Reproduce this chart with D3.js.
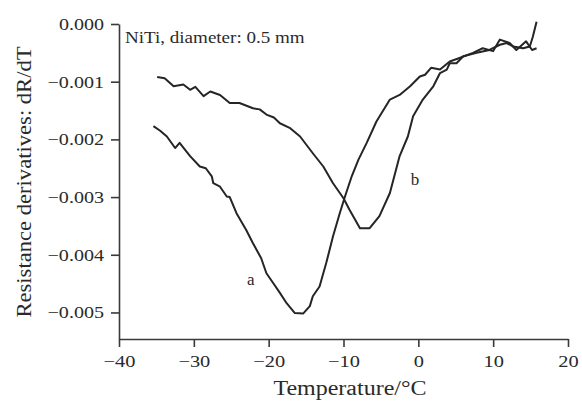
<!DOCTYPE html>
<html>
<head>
<meta charset="utf-8">
<script src="https://cdn.jsdelivr.net/npm/d3@7"></script>
<style>
  body { margin: 0; background: #fff; }
  text { font-family: "Liberation Serif", "Times New Roman", serif; fill: #2a2a2a; }
  .axis path, .axis line { stroke: #3a3a3a; stroke-width: 1.6; }
  .line { fill: none; stroke: #252525; stroke-width: 2; stroke-linejoin: round; }
</style>
</head>
<body>
<div id="chart"></div>
<script>
// curve a (cooling)
var aTemp = [-35.4,-34.5,-33.6,-32.5,-31.9,-30.5,-29.2,-28.4,-27.6,-27.4,-26.5,-25.6,-25.2,-24.3,-23.0,-22.1,-21.0,-20.3,-19.4,-18.5,-17.6,-16.5,-15.4,-14.5,-14.1,-13.2,-12.3,-11.4,-10.5,-9.8,-8.9,-8.0,-6.9,-5.6,-3.8,-2.5,-1.1,0.2,0.9,1.7,2.9,4.2,5.5,7.3,8.6,10.0,10.9,12.2,13.1,14.4,15.2,15.8];
var aDeriv = [-0.00177,-0.00185,-0.00195,-0.00215,-0.00206,-0.00229,-0.00247,-0.00250,-0.00264,-0.00276,-0.00282,-0.00299,-0.00300,-0.00328,-0.00357,-0.00380,-0.00406,-0.00432,-0.00449,-0.00466,-0.00484,-0.00501,-0.00502,-0.00489,-0.00472,-0.00455,-0.00414,-0.00368,-0.00328,-0.00299,-0.00264,-0.00235,-0.00206,-0.00169,-0.00131,-0.00123,-0.00108,-0.00091,-0.00088,-0.00076,-0.00079,-0.00065,-0.00059,-0.00050,-0.00042,-0.00047,-0.00027,-0.00033,-0.00045,-0.00030,-0.00045,-0.00042];

// curve b (heating)
var bTemp = [-34.9,-33.9,-32.7,-31.4,-30.5,-29.8,-28.7,-27.8,-26.5,-25.2,-23.9,-22.1,-21.2,-20.3,-19.3,-18.5,-17.2,-15.8,-14.1,-12.7,-11.4,-10.0,-9.2,-7.8,-6.5,-5.2,-3.8,-2.5,-1.4,-0.7,0.6,2.0,2.9,3.8,4.2,5.1,6.0,7.8,9.5,10.9,11.8,12.7,14.0,14.9,15.3,15.8];
var bDeriv = [-0.00092,-0.00094,-0.00108,-0.00105,-0.00114,-0.00109,-0.00125,-0.00117,-0.00123,-0.00137,-0.00137,-0.00146,-0.00148,-0.00157,-0.00162,-0.00172,-0.00180,-0.00195,-0.00224,-0.00247,-0.00276,-0.00302,-0.00322,-0.00354,-0.00354,-0.00333,-0.00293,-0.00229,-0.00195,-0.00160,-0.00131,-0.00108,-0.00085,-0.00079,-0.00068,-0.00068,-0.00056,-0.00050,-0.00045,-0.00036,-0.00033,-0.00039,-0.00042,-0.00039,-0.00022,0.00004];

var xTicks = [-40,-30,-20,-10,0,10,20];
var yTicks = [0,-0.001,-0.002,-0.003,-0.004,-0.005];

var curveLabels = [
  {name: "a", t: -22.9, v: -0.00453},
  {name: "b", t: -1.0, v: -0.00279}
];

var margin = {top: 24, right: 14, bottom: 62, left: 119},
    width = 582 - margin.left - margin.right,
    height = 401 - margin.top - margin.bottom;

var svg = d3.select("#chart").append("svg")
    .attr("width", 582)
    .attr("height", 401)
    .append("g")
    .attr("transform", "translate(" + margin.left + "," + margin.top + ")");

var x = d3.scaleLinear().domain([-40, 20]).range([0, width]);
var y = d3.scaleLinear().domain([-0.00546, 0]).range([height, 0]);

var fmtMinus = function(s) { return s.replace("-", "\u2013"); };

// the scanned figure is a bit wider than tall, so widen the glyphs too
function stretch(sel, k) {
  sel.each(function() {
    var w = this.getComputedTextLength();
    d3.select(this)
      .attr("textLength", w * k)
      .attr("lengthAdjust", "spacingAndGlyphs");
  });
}

svg.append("g")
    .attr("class", "axis")
    .attr("transform", "translate(0," + height + ")")
    .call(d3.axisBottom(x)
        .tickValues(xTicks)
        .tickSize(8)
        .tickSizeOuter(0)
        .tickPadding(8)
        .tickFormat(function(d) { return fmtMinus(d3.format("d")(d)); }))
    .selectAll("text")
    .style("font-size", "17px")
    .call(stretch, 1.2);

svg.append("g")
    .attr("class", "axis")
    .call(d3.axisLeft(y)
        .tickValues(yTicks)
        .tickSize(8)
        .tickSizeOuter(0)
        .tickPadding(7)
        .tickFormat(function(d) { return fmtMinus(d3.format(".3f")(d)); }))
    .selectAll("text")
    .style("font-size", "17px")
    .call(stretch, 1.18);

function makeData(ts, vs) {
  return ts.map(function(t, i) { return {t: t, v: vs[i]}; });
}

var line = d3.line()
    .x(function(d) { return x(d.t); })
    .y(function(d) { return y(d.v); })
    .curve(d3.curveLinear);

svg.append("path").datum(makeData(aTemp, aDeriv)).attr("class", "line").attr("d", line);
svg.append("path").datum(makeData(bTemp, bDeriv)).attr("class", "line").attr("d", line);

svg.selectAll(".curve-label")
    .data(curveLabels)
    .enter().append("text")
    .attr("class", "curve-label")
    .attr("x", function(d) { return x(d.t); })
    .attr("y", function(d) { return y(d.v); })
    .style("font-size", "17px")
    .text(function(d) { return d.name; });

svg.append("text")
    .attr("x", 6)
    .attr("y", 19)
    .style("font-size", "17px")
    .text("NiTi, diameter: 0.5 mm")
    .call(stretch, 1.12);

// axis titles
svg.append("text")
    .attr("x", 231)
    .attr("y", height + 56)
    .attr("text-anchor", "middle")
    .style("font-size", "20px")
    .text("Temperature/\u00B0C")
    .call(stretch, 1.2);

svg.append("text")
    .attr("transform", "rotate(-90)")
    .attr("x", -158)
    .attr("y", -88)
    .attr("text-anchor", "middle")
    .style("font-size", "20px")
    .text("Resistance derivatives: dR/dT")
    .call(stretch, 1.13);
</script>
</body>
</html>
